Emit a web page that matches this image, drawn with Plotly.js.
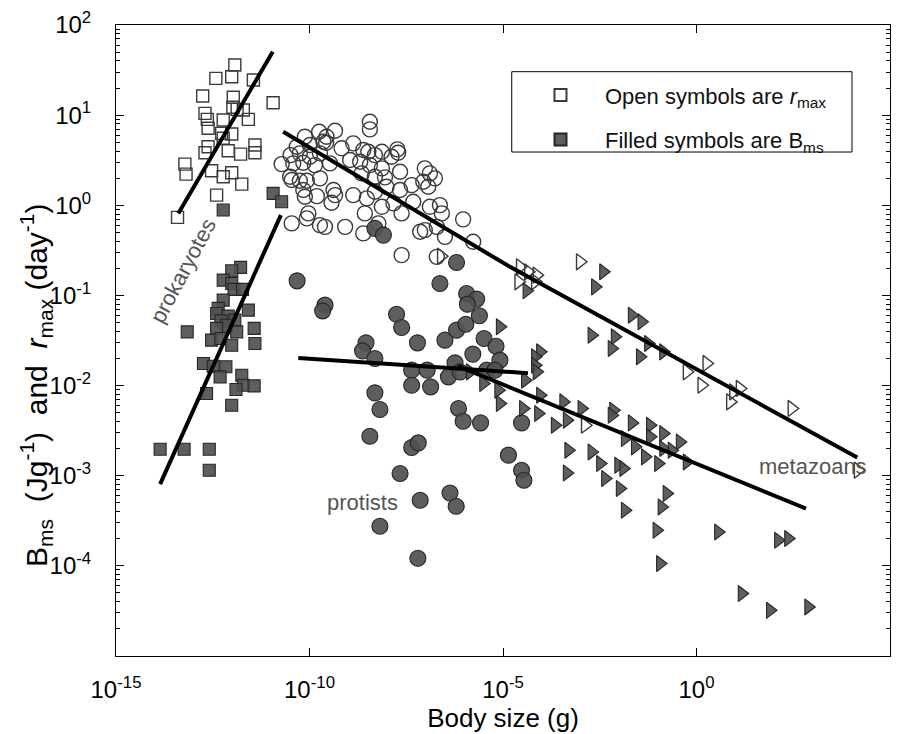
<!DOCTYPE html>
<html>
<head>
<meta charset="utf-8">
<script src="https://cdn.plot.ly/plotly-3.0.1.min.js"></script>
<style>html,body{margin:0;padding:0;background:#fff}#chart{width:906px;height:734px}</style>
</head>
<body>
<div id="chart"></div>
<script>
// All values stored as log10 (body size in g, rate in J/g/day or 1/day)
// Prokaryotes, r_max (open squares)
var prokRmaxLogMass = [-11.93,-12.42,-12.01,-11.45,-12.76,-11.97,-10.94,-12.70,-11.98,-11.87,-11.71,-12.64,-12.23,-11.58,-12.62,-12.27,-12.01,-12.23,-12.62,-12.70,-12.10,-11.78,-11.41,-11.41,-13.22,-13.19,-12.53,-12.23,-12.01,-11.75,-12.40,-13.41];
var prokRmaxLogRate = [1.556,1.408,1.426,1.39,1.212,1.198,1.138,1.02,1.087,1.064,1.057,0.953,0.946,0.953,0.854,0.798,0.79,0.743,0.649,0.583,0.605,0.568,0.668,0.583,0.457,0.346,0.383,0.316,0.361,0.235,0.113,-0.134];
// Prokaryotes, B_ms (filled squares)
var prokBmsLogMass = [-11.78,-12.01,-12.23,-12.01,-11.95,-11.73,-12.23,-11.58,-12.36,-12.40,-12.10,-11.93,-12.29,-12.14,-12.40,-13.16,-11.88,-11.43,-12.53,-12.29,-12.01,-11.41,-12.74,-12.49,-12.16,-12.31,-11.75,-11.71,-11.90,-11.43,-12.66,-12.01,-13.86,-13.24,-12.59,-12.59,-12.23,-10.94,-10.72];
var prokBmsLogRate = [-0.689,-0.727,-0.830,-0.867,-0.933,-0.933,-1.052,-1.163,-1.144,-1.2,-1.23,-1.274,-1.282,-1.33,-1.366,-1.404,-1.404,-1.366,-1.496,-1.477,-1.552,-1.533,-1.755,-1.785,-1.792,-1.903,-1.885,-1.996,-2.043,-2.003,-2.088,-2.218,-2.706,-2.706,-2.706,-2.939,-0.053,0.132,0.039];
// Protists, r_max (open circles)
var protRmaxLogMass = [-8.44,-8.44,-10.12,-9.75,-9.56,-9.34,-9.57,-10.33,-9.99,-9.17,-8.87,-10.25,-10.49,-9.99,-9.73,-8.61,-8.48,-8.31,-8.13,-7.88,-7.73,-7.71,-8.95,-8.69,-10.72,-10.42,-10.16,-9.86,-9.47,-8.44,-8.13,-7.66,-7.02,-6.89,-6.76,-8.65,-8.31,-8.05,-10.46,-10.25,-10.07,-9.73,-7.36,-7.06,-6.93,-10.16,-9.81,-9.38,-9.34,-8.87,-8.31,-8.01,-7.66,-10.12,-9.43,-8.52,-8.13,-7.83,-7.62,-7.32,-6.89,-6.63,-6.58,-8.57,-10.46,-10.07,-10.03,-9.73,-9.60,-9.08,-8.61,-8.22,-7.14,-7.02,-6.71,-6.50,-6.03,-5.77,-7.62,-6.71,-9.64,-10.50];
var protRmaxLogRate = [0.927,0.842,0.760,0.816,0.760,0.827,0.694,0.649,0.668,0.632,0.687,0.576,0.557,0.538,0.576,0.613,0.594,0.557,0.594,0.538,0.620,0.583,0.502,0.483,0.457,0.465,0.472,0.446,0.465,0.446,0.410,0.372,0.410,0.354,0.299,0.354,0.316,0.310,0.280,0.272,0.272,0.299,0.224,0.261,0.205,0.169,0.102,0.169,0.113,0.113,0.150,0.205,0.169,0.094,0.028,0.077,-0.017,0.021,-0.090,0.039,-0.017,0.002,-0.090,-0.090,-0.201,-0.145,-0.090,-0.220,-0.239,-0.239,-0.312,-0.201,-0.294,-0.275,-0.239,-0.350,-0.156,-0.405,-0.553,-0.572,0.705,0.316];
// Protists, B_ms (filled circles)
var protBmsLogMass = [-10.32,-9.60,-9.66,-8.31,-8.09,-6.63,-6.20,-5.94,-5.68,-5.92,-5.61,-7.75,-7.62,-7.21,-8.54,-8.63,-8.31,-6.50,-6.20,-5.96,-5.49,-5.18,-5.78,-5.08,-6.24,-7.36,-6.96,-6.41,-6.11,-5.42,-5.21,-7.36,-6.87,-8.31,-8.18,-6.15,-6.03,-5.58,-4.52,-8.44,-7.36,-7.19,-4.86,-4.52,-7.66,-4.46,-6.37,-6.21,-8.18,-7.20,-7.14];
var protBmsLogRate = [-0.838,-1.108,-1.171,-0.256,-0.331,-0.867,-0.634,-0.978,-1.041,-1.097,-1.226,-1.208,-1.355,-1.526,-1.526,-1.615,-1.699,-1.496,-1.385,-1.319,-1.477,-1.563,-1.651,-1.718,-1.748,-1.829,-1.829,-1.903,-1.848,-1.829,-1.829,-1.996,-2.014,-2.081,-2.265,-2.254,-2.395,-2.414,-2.414,-2.562,-2.687,-2.636,-2.772,-2.939,-2.976,-3.05,-3.191,-3.339,-3.56,-3.916,-3.272];
// Metazoans, r_max (open triangles)
var metaRmaxLogMass = [-3.01,-4.56,-4.35,-4.13,-4.60,-4.17,0.26,-0.25,0.13,1.12,0.95,0.87,2.46,4.17,-6.60,-2.88];
var metaRmaxLogRate = [-0.627,-0.683,-0.738,-0.775,-0.849,-0.849,-1.755,-1.848,-1.996,-2.032,-2.07,-2.181,-2.254,-2.939,-0.564,-2.44];
// Metazoans, B_ms (filled triangles)
var metaBmsLogMass = [-2.41,-2.62,-4.39,-5.08,-1.67,-1.42,-2.71,-2.11,-2.19,-1.46,-1.25,-0.86,-4.04,-4.17,-4.17,-4.13,-4.43,-5.85,-5.51,-5.12,-4.04,-5.08,-4.48,-4.09,-3.66,-3.35,-2.97,-2.15,-2.19,-1.67,-1.20,-0.86,-0.43,-1.85,-1.59,-1.20,-0.86,-0.64,-1.33,-0.99,-0.25,-3.31,-2.71,-3.35,-2.49,-2.02,-1.89,-2.36,-1.98,-1.85,-0.77,-0.90,-1.03,-0.94,0.56,2.11,2.37,1.17,1.90,2.89,-3.44];
var metaBmsLogRate = [-0.738,-0.905,-0.949,-1.348,-1.219,-1.293,-1.441,-1.459,-1.588,-1.681,-1.533,-1.626,-1.626,-1.681,-1.774,-1.848,-1.94,-1.848,-1.977,-2.051,-2.107,-2.199,-2.254,-2.31,-2.44,-2.384,-2.254,-2.273,-2.329,-2.414,-2.44,-2.532,-2.625,-2.587,-2.68,-2.569,-2.698,-2.717,-2.791,-2.865,-2.847,-2.717,-2.736,-2.969,-2.865,-2.883,-2.92,-3.031,-3.142,-3.383,-3.198,-3.346,-3.605,-3.975,-3.624,-3.716,-3.697,-4.307,-4.493,-4.456,-2.181];
// Fitted lines (endpoints)
var fitProkRmaxLogMass = [-13.39,-10.95];
var fitProkRmaxLogRate = [-0.09,1.704];
var fitProkBmsLogMass = [-13.86,-10.74];
var fitProkBmsLogRate = [-3.094,-0.109];
var fitRmaxLogMass = [-10.68,-4.82,4.155];
var fitRmaxLogRate = [0.816,-0.683,-2.798];
var fitProtBmsLogMass = [-10.29,-4.354];
var fitProtBmsLogRate = [-1.693,-1.862];
var fitMetaBmsLogMass = [-6.163,2.829];
var fitMetaBmsLogRate = [-1.785,-3.364];

var xTickVals = [1e-15,1e-10,1e-5,1,1e5];
var xTickText = ['10<sup>-15</sup>','10<sup>-10</sup>','10<sup>-5</sup>','10<sup>0</sup>','10<sup>5</sup>'];
var yTickVals = [1e-4,1e-3,1e-2,1e-1,1,10,100];
var yTickText = ['10<sup>-4</sup>','10<sup>-3</sup>','10<sup>-2</sup>','10<sup>-1</sup>','10<sup>0</sup>','10<sup>1</sup>','10<sup>2</sup>'];

function pw(arr){ return arr.map(function(v){ return Math.pow(10, v); }); }

var minorY = [];
for (var e = -5; e < 2; e++) { for (var d = 2; d <= 9; d++) { minorY.push(d * Math.pow(10, e)); } }

var openStyle = function(sym, size){ return {symbol: sym, size: size, color: 'rgba(0,0,0,0)', line: {color: '#3a3a3a', width: 1.4}}; };
var fillStyle = function(sym, size){ return {symbol: sym, size: size, color: 'rgba(80,80,80,0.92)', line: {color: '#262626', width: 1.1}}; };

var traces = [
  {x: pw(prokRmaxLogMass), y: pw(prokRmaxLogRate), mode: 'markers', type: 'scatter', name: 'Open symbols are <i>r</i><sub>max</sub>', legendgroup: 'a', marker: openStyle('square', 12)},
  {x: pw(prokBmsLogMass), y: pw(prokBmsLogRate), mode: 'markers', type: 'scatter', name: 'Filled symbols are B<sub>ms</sub>', legendgroup: 'b', marker: fillStyle('square', 12)},
  {x: pw(protRmaxLogMass), y: pw(protRmaxLogRate), mode: 'markers', type: 'scatter', showlegend: false, marker: openStyle('circle', 15)},
  {x: pw(protBmsLogMass), y: pw(protBmsLogRate), mode: 'markers', type: 'scatter', showlegend: false, marker: fillStyle('circle', 16)},
  {x: pw(metaRmaxLogMass), y: pw(metaRmaxLogRate), mode: 'markers', type: 'scatter', showlegend: false, marker: openStyle('triangle-right', 14)},
  {x: pw(metaBmsLogMass), y: pw(metaBmsLogRate), mode: 'markers', type: 'scatter', showlegend: false, marker: fillStyle('triangle-right', 14)}
];
var fits = [[fitProkRmaxLogMass, fitProkRmaxLogRate],[fitProkBmsLogMass, fitProkBmsLogRate],[fitRmaxLogMass, fitRmaxLogRate],[fitProtBmsLogMass, fitProtBmsLogRate],[fitMetaBmsLogMass, fitMetaBmsLogRate]];
fits.forEach(function(f){
  traces.push({x: pw(f[0]), y: pw(f[1]), mode: 'lines', type: 'scatter', showlegend: false, line: {color: '#000', width: 4}});
});

var font = 'Liberation Sans, Arial, Helvetica, sans-serif';
var layout = {
  width: 906, height: 734,
  margin: {l: 116, r: 16, t: 25, b: 78},
  paper_bgcolor: '#fff', plot_bgcolor: '#fff',
  font: {family: font, color: '#000', size: 20},
  showlegend: true,
  legend: {x: 0.5168, y: 0.922, xanchor: 'left', yanchor: 'top', bgcolor: 'rgba(0,0,0,0)', borderwidth: 0, font: {size: 22, color: '#111'}, tracegroupgap: 13, itemwidth: 79, itemsizing: 'constant'},
  shapes: [{type: 'rect', xref: 'paper', yref: 'paper', x0: 0.5113, x1: 0.9509, y0: 0.7987, y1: 0.926, line: {color: '#000', width: 1}, fillcolor: 'rgba(0,0,0,0)'}],
  xaxis: {
    type: 'log', range: [-15, 5], showgrid: false, zeroline: false,
    showline: true, linecolor: '#000', linewidth: 1, mirror: 'ticks',
    ticks: 'inside', ticklen: 8, tickcolor: '#000',
    tickmode: 'array', tickvals: xTickVals, ticktext: xTickText,
    tickfont: {size: 24}, ticklabelstandoff: 12,
    title: {text: 'Body size (g)', font: {size: 26}, standoff: 6}
  },
  yaxis: {
    type: 'log', range: [-5, 2], showgrid: false, zeroline: false,
    showline: true, linecolor: '#000', linewidth: 1, mirror: 'ticks',
    ticks: 'inside', ticklen: 8, tickcolor: '#000',
    tickmode: 'array', tickvals: yTickVals, ticktext: yTickText,
    tickfont: {size: 24}, ticklabelstandoff: 19,
    minor: {tickmode: 'array', tickvals: minorY, ticks: 'inside', ticklen: 4, tickcolor: '#000', showgrid: false}
  },
  annotations: [
    {xref: 'paper', yref: 'paper', x: 0, y: 0.4295, xshift: -80, xanchor: 'center', yanchor: 'middle', textangle: -90, showarrow: false,
     text: 'B<sub>ms</sub>&nbsp;&nbsp;(Jg<sup>-1</sup>)&nbsp;&nbsp;and&nbsp;&nbsp;<i>r</i><sub>max</sub>&nbsp;(day<sup>-1</sup>)', font: {size: 30, color: '#000'}},
    {x: -13.27, y: -0.72, xref: 'x', yref: 'y', text: 'prokaryotes', showarrow: false, textangle: -62, font: {size: 22, color: '#555'}},
    {x: -8.64, y: -3.294, xref: 'x', yref: 'y', text: 'protists', showarrow: false, font: {size: 22, color: '#555'}},
    {x: 3.02, y: -2.895, xref: 'x', yref: 'y', text: 'metazoans', showarrow: false, font: {size: 22, color: '#555'}}
  ]
};

Plotly.newPlot('chart', traces, layout, {displayModeBar: false, staticPlot: true});
</script>
</body>
</html>
